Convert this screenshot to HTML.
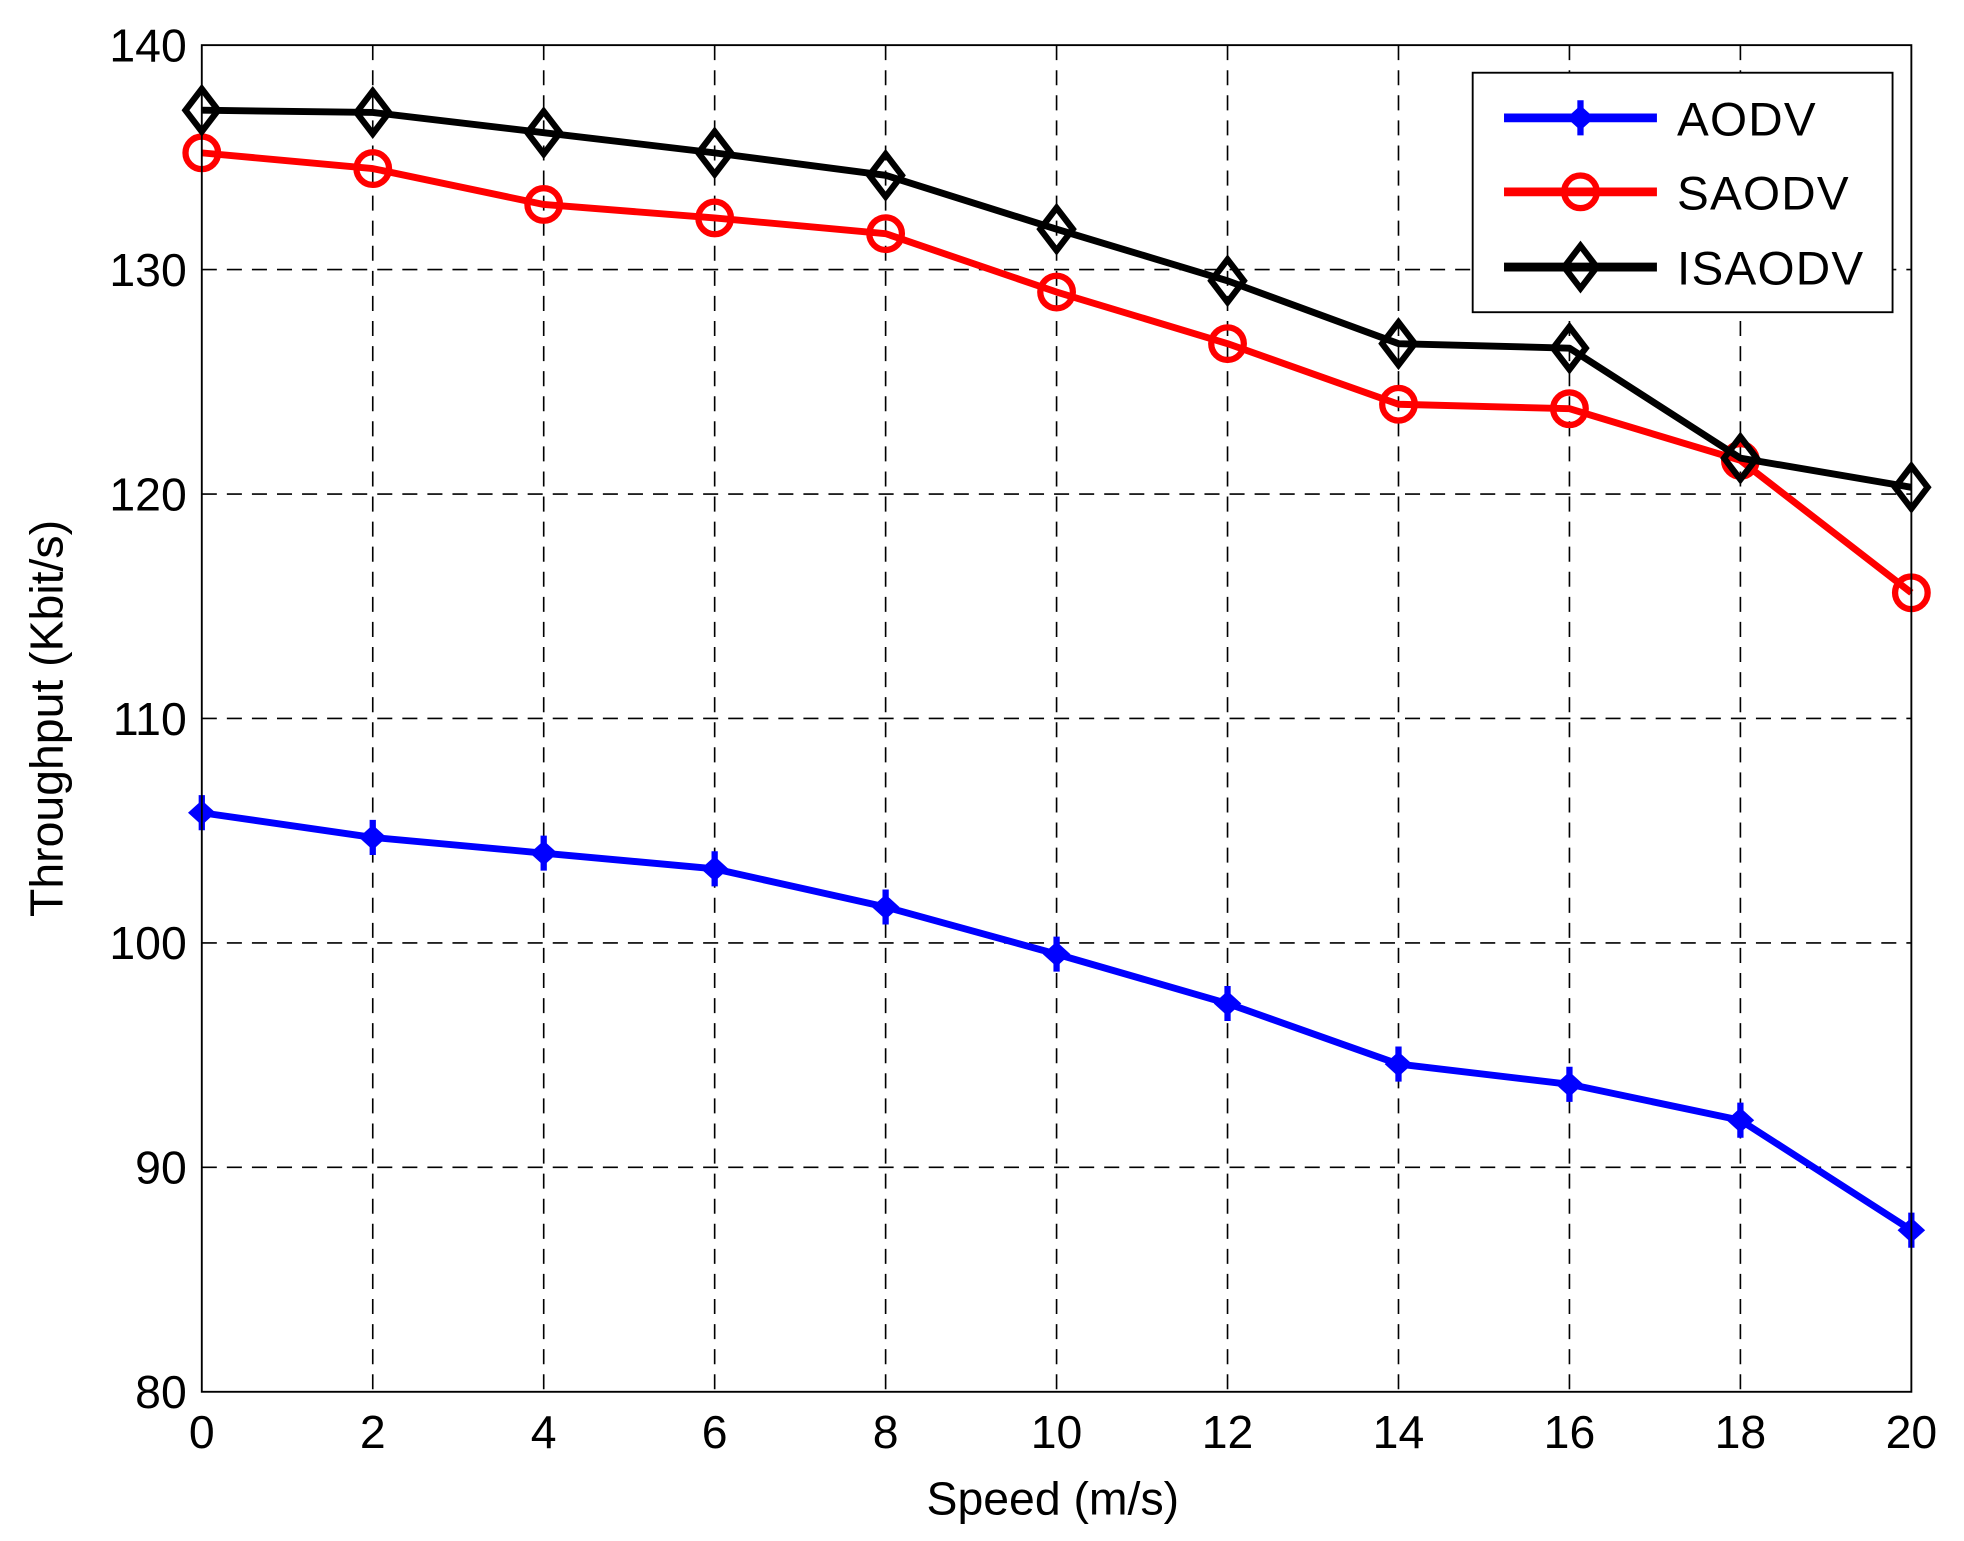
<!DOCTYPE html>
<html><head><meta charset="utf-8"><style>
html,body{margin:0;padding:0;background:#fff;}
svg{display:block;}
text{font-family:"Liberation Sans",sans-serif;}
</style></head><body>
<svg id="chart" width="1964" height="1541" viewBox="0 0 1567 1229" preserveAspectRatio="none" xmlns="http://www.w3.org/2000/svg">
<rect x="0" y="0" width="1567" height="1229" fill="#fff"/>
<g id="grid"></g>
<g id="series"></g>
<g id="axes"></g>
</svg>
<script>
const speeds=[0,2,4,6,8,10,12,14,16,18,20];
const aodv=[105.8,104.7,104.0,103.3,101.6,99.5,97.3,94.6,93.7,92.1,87.2];
const saodv=[135.2,134.5,132.9,132.3,131.6,129.0,126.7,124.0,123.8,121.5,115.6];
const isaodv=[137.1,137.0,136.1,135.2,134.2,131.8,129.5,126.7,126.5,121.6,120.3];
const xTicks=[0,2,4,6,8,10,12,14,16,18,20];
const yTicks=[80,90,100,110,120,130,140];
const seriesNames=["AODV","SAODV","ISAODV"];

const NS="http://www.w3.org/2000/svg";
const L=161,R=1525,T=36,B=1110;
const X=v=>L+(v-0)/(20-0)*(R-L);
const Y=v=>B-(v-80)/(140-80)*(B-T);
function mk(tag,attrs,parent){const e=document.createElementNS(NS,tag);for(const k in attrs)e.setAttribute(k,attrs[k]);parent.appendChild(e);return e;}
const grid=document.getElementById('grid'),ser=document.getElementById('series'),axes=document.getElementById('axes');

xTicks.forEach(t=>{
  if(t>0&&t<20){const g=mk('line',{x1:X(t),x2:X(t),y1:T,y2:B,stroke:'#000','stroke-width':1.3,'stroke-dasharray':'12,8'},grid);
  
  }
  const tx=mk('text',{x:X(t),y:1155,'text-anchor':'middle','font-size':37},axes);tx.textContent=t;
  
  
});
yTicks.forEach(t=>{
  if(t>80&&t<140){const g=mk('line',{x1:L,x2:R,y1:Y(t),y2:Y(t),stroke:'#000','stroke-width':1.3,'stroke-dasharray':'12,8'},grid);
  
  }
  const tx=mk('text',{x:149,y:Y(t)+13,'text-anchor':'end','font-size':37},axes);tx.textContent=t;
  
  
});
const frame=mk('rect',{x:L,y:T,width:R-L,height:B-T,fill:'none',stroke:'#000','stroke-width':1.5},axes);


const xt=mk('text',{x:840,y:1208,'text-anchor':'middle','font-size':37},axes);xt.textContent='Speed (m/s)';


const yt=mk('text',{x:0,y:0,'text-anchor':'middle','font-size':37,'xml:space':'preserve',transform:'translate(50,573) rotate(-90)'},axes);yt.textContent='Throughput  (Kbit/s)';



function marker(type,cx,cy,color,parent){
  if(type==='star'){
    mk('path',{d:`M${cx-11},${cy} L${cx},${cy-10} L${cx+11},${cy} L${cx},${cy+10}Z`,fill:color},parent);
    mk('line',{x1:cx,x2:cx,y1:cy-14,y2:cy+14,stroke:color,'stroke-width':5},parent);
  }else if(type==='circle'){
    mk('circle',{cx:cx,cy:cy,r:13,fill:'none',stroke:color,'stroke-width':5},parent);
  }else{
    mk('path',{d:`M${cx},${cy-17} L${cx+13},${cy} L${cx},${cy+17} L${cx-13},${cy}Z`,fill:'none',stroke:color,'stroke-width':5},parent);
  }
}
const defs=[[aodv,'#0000ff','star'],[saodv,'#ff0000','circle'],[isaodv,'#000','diamond']];
defs.forEach(([vals,color,m],i)=>{
  const g=mk('g',{},ser);
  
  
  const pl=mk('polyline',{points:vals.map((v,j)=>X(speeds[j])+','+Y(v)).join(' '),fill:'none',stroke:color,'stroke-width':5.5,'stroke-linejoin':'round'},g);
  
  
  vals.forEach((v,j)=>marker(m,X(speeds[j]),Y(v),color,g));
});

const lg=mk('g',{},axes);


mk('rect',{x:1175,y:58,width:335,height:191,fill:'#fff',stroke:'#000','stroke-width':1.5},lg);
const ly=[94,153,213];
defs.forEach(([vals,color,m],i)=>{
  const e=mk('g',{},lg);
  
  
  mk('line',{x1:1200,x2:1322,y1:ly[i],y2:ly[i],stroke:color,'stroke-width':7},e);
  marker(m,1261,ly[i],color,e);
  const t=mk('text',{x:1338,y:ly[i]+14,'font-size':38,'letter-spacing':1},e);t.textContent=seriesNames[i];
});
</script>
</body></html>
